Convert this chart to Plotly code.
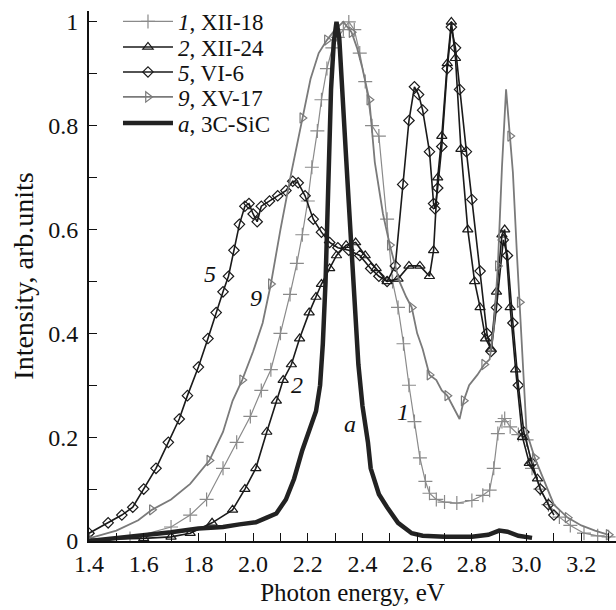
import plotly.graph_objects as go

# ---------------- data ----------------
x1 = [1.40, 1.55, 1.70, 1.77, 1.83, 1.89, 1.94, 1.99, 2.03, 2.065, 2.10, 2.135, 2.16, 2.18, 2.20, 2.215,
      2.235, 2.25, 2.27, 2.29, 2.31, 2.33, 2.35, 2.37, 2.39, 2.41, 2.435, 2.46, 2.49, 2.51, 2.53, 2.55,
      2.57, 2.59, 2.61, 2.63, 2.645, 2.67, 2.70, 2.745, 2.80, 2.84, 2.865, 2.88, 2.895, 2.91, 2.92, 2.94,
      2.97, 3.00, 3.02, 3.05, 3.08, 3.12, 3.16, 3.21, 3.26, 3.30]
y1 = [0.002, 0.005, 0.027, 0.05, 0.08, 0.14, 0.19, 0.24, 0.29, 0.33, 0.40, 0.475, 0.535, 0.59, 0.655, 0.72,
      0.79, 0.85, 0.91, 0.95, 0.97, 0.985, 1.0, 0.985, 0.94, 0.885, 0.80, 0.78, 0.62, 0.50, 0.45, 0.38,
      0.30, 0.23, 0.16, 0.115, 0.092, 0.08, 0.075, 0.073, 0.078, 0.088, 0.098, 0.14, 0.207, 0.23, 0.236, 0.22,
      0.205, 0.195, 0.14, 0.10, 0.07, 0.046, 0.03, 0.015, 0.01, 0.008]

x2 = [1.40, 1.60, 1.70, 1.77, 1.85, 1.925, 1.97, 2.01, 2.05, 2.085, 2.11, 2.14, 2.17, 2.205, 2.23, 2.25,
      2.28, 2.305, 2.34, 2.375, 2.41, 2.45, 2.49, 2.53, 2.57, 2.61, 2.645, 2.66, 2.675, 2.69, 2.71, 2.725,
      2.74, 2.76, 2.785, 2.81, 2.83, 2.85, 2.87, 2.89, 2.91, 2.92, 2.94, 2.96, 2.985, 3.01, 3.04]
y2 = [0.003, 0.005, 0.008, 0.015, 0.035, 0.06, 0.10, 0.14, 0.21, 0.27, 0.31, 0.34, 0.39, 0.44, 0.47, 0.495,
      0.525, 0.55, 0.57, 0.575, 0.55, 0.525, 0.50, 0.505, 0.53, 0.53, 0.51, 0.56, 0.70, 0.78, 0.92, 1.0,
      0.93, 0.755, 0.60, 0.50, 0.45, 0.39, 0.37, 0.48, 0.59, 0.60, 0.45, 0.33, 0.20, 0.15, 0.12]

x5 = [1.40, 1.47, 1.52, 1.56, 1.60, 1.645, 1.69, 1.73, 1.76, 1.80, 1.835, 1.865, 1.89, 1.91, 1.93, 1.95,
      1.97, 1.985, 2.00, 2.015, 2.03, 2.06, 2.09, 2.12, 2.145, 2.165, 2.19, 2.22, 2.25, 2.28, 2.31, 2.35,
      2.39, 2.43, 2.46, 2.49, 2.52, 2.547, 2.57, 2.59, 2.605, 2.62, 2.645, 2.66, 2.665, 2.675, 2.69, 2.71,
      2.725, 2.74, 2.755, 2.78, 2.80, 2.83, 2.855, 2.87, 2.89, 2.915, 2.93, 2.95, 2.97, 2.99, 3.02, 3.05,
      3.08, 3.10]
y5 = [0.015, 0.035, 0.05, 0.065, 0.10, 0.14, 0.19, 0.235, 0.28, 0.335, 0.39, 0.44, 0.48, 0.51, 0.56, 0.61,
      0.645, 0.65, 0.63, 0.615, 0.645, 0.655, 0.665, 0.675, 0.693, 0.69, 0.665, 0.62, 0.595, 0.575, 0.565, 0.56,
      0.55, 0.525, 0.51, 0.50, 0.53, 0.687, 0.81, 0.875, 0.86, 0.83, 0.75, 0.65, 0.64, 0.68, 0.76, 0.91,
      0.99, 0.95, 0.87, 0.75, 0.658, 0.52, 0.40, 0.365, 0.45, 0.58, 0.55, 0.42, 0.30, 0.21, 0.15, 0.10,
      0.07, 0.05]

x9 = [1.40, 1.50, 1.58, 1.63, 1.70, 1.77, 1.84, 1.89, 1.925, 1.96, 2.00, 2.035, 2.065, 2.10, 2.14, 2.18,
      2.21, 2.24, 2.27, 2.30, 2.33, 2.36, 2.38, 2.40, 2.425, 2.445, 2.475, 2.50, 2.535, 2.56, 2.58, 2.60,
      2.62, 2.645, 2.67, 2.69, 2.71, 2.73, 2.755, 2.77, 2.79, 2.82, 2.845, 2.865, 2.88, 2.895, 2.91, 2.925,
      2.94, 2.95, 2.965, 2.975, 2.99, 3.00, 3.03, 3.06, 3.10, 3.15, 3.20, 3.25, 3.30]
y9 = [0.005, 0.02, 0.04, 0.06, 0.08, 0.11, 0.155, 0.21, 0.27, 0.31, 0.365, 0.42, 0.495, 0.60, 0.71, 0.815,
      0.89, 0.94, 0.965, 0.985, 1.0, 0.98, 0.95, 0.91, 0.85, 0.73, 0.63, 0.57, 0.50, 0.47, 0.45, 0.40,
      0.37, 0.32, 0.31, 0.29, 0.28, 0.26, 0.235, 0.27, 0.30, 0.32, 0.34, 0.35, 0.41, 0.53, 0.72, 0.87,
      0.78, 0.71, 0.55, 0.46, 0.30, 0.21, 0.16, 0.12, 0.07, 0.045, 0.03, 0.02, 0.012]

xa = [1.40, 1.50, 1.60, 1.70, 1.80, 1.89, 1.95, 2.01, 2.05, 2.085, 2.12, 2.15, 2.18, 2.21, 2.23, 2.245,
      2.255, 2.265, 2.275, 2.285, 2.295, 2.305, 2.315, 2.325, 2.34, 2.35, 2.36, 2.37, 2.385, 2.40, 2.42,
      2.43, 2.46, 2.49, 2.53, 2.58, 2.62, 2.70, 2.80, 2.86, 2.90, 2.93, 2.97, 3.02]
ya = [0.0, 0.005, 0.01, 0.017, 0.024, 0.027, 0.032, 0.036, 0.045, 0.053, 0.08, 0.12, 0.175, 0.22, 0.25, 0.30,
      0.38, 0.50, 0.70, 0.87, 0.96, 1.0, 0.97, 0.86, 0.74, 0.65, 0.55, 0.46, 0.34, 0.26, 0.19,
      0.14, 0.09, 0.065, 0.035, 0.015, 0.01, 0.008, 0.008, 0.012, 0.02, 0.018, 0.01, 0.006]

names = ["<i>1</i>, XII-18", "<i>2</i>, XII-24", "<i>5</i>, VI-6", "<i>9</i>, XV-17", "<i>a</i>, 3C-SiC"]

xtick_vals = [1.4, 1.6, 1.8, 2.0, 2.2, 2.4, 2.6, 2.8, 3.0, 3.2]
xtick_text = ["1.4", "1.6", "1.8", "2.0", "2.2", "2.4", "2.6", "2.8", "3.0", "3.2"]
ytick_vals = [0, 0.2, 0.4, 0.6, 0.8, 1.0]
ytick_text = ["0", "0.2", "0.4", "0.6", "0.8", "1"]

curve_labels = ["5", "9", "2", "a", "1"]
curve_label_x = [1.843, 2.012, 2.162, 2.356, 2.547]
curve_label_y = [0.514, 0.468, 0.30, 0.225, 0.248]

# ---------------- figure ----------------
FONT = "Liberation Serif, Times New Roman, serif"
fig = go.Figure()

legend_ids = ["legend", "legend2", "legend3", "legend4", "legend5"]

fig.add_trace(go.Scatter(x=x1, y=y1, name=names[0], mode="lines+markers", legend=legend_ids[0],
                         line=dict(color="#8a8a8a", width=1.2),
                         marker=dict(symbol="cross-thin-open", size=10, color="#8a8a8a",
                                     line=dict(width=1.2, color="#8a8a8a"))))
fig.add_trace(go.Scatter(x=x2, y=y2, name=names[1], mode="lines+markers", legend=legend_ids[1],
                         line=dict(color="#1a1a1a", width=1.6),
                         marker=dict(symbol="triangle-up-open", size=9, color="#1a1a1a",
                                     line=dict(width=1.2, color="#1a1a1a"))))
fig.add_trace(go.Scatter(x=x5, y=y5, name=names[2], mode="lines+markers", legend=legend_ids[2],
                         line=dict(color="#1a1a1a", width=1.6),
                         marker=dict(symbol="diamond-open", size=8, color="#1a1a1a",
                                     line=dict(width=1.2, color="#1a1a1a"))))
fig.add_trace(go.Scatter(x=x9, y=y9, name=names[3], mode="lines+markers", legend=legend_ids[3],
                         line=dict(color="#7a7a7a", width=1.8),
                         marker=dict(symbol="triangle-right-open", size=9, color="#7a7a7a",
                                     maxdisplayed=25,
                                     line=dict(width=1.2, color="#7a7a7a"))))
fig.add_trace(go.Scatter(x=xa, y=ya, name=names[4], mode="lines", legend=legend_ids[4],
                         line=dict(color="#222222", width=4.5)))

for t, xv, yv in zip(curve_labels, curve_label_x, curve_label_y):
    fig.add_annotation(x=xv, y=yv, text="<i>" + t + "</i>", showarrow=False,
                       font=dict(family=FONT, size=24, color="#111"))

# legend entry centres (pixels from top) -> paper coords
PLOT_TOP, PLOT_BOTTOM = 10, 541
entry_px = [21, 47, 72, 97, 123]
legend_layout = {}
for lid, py in zip(legend_ids, entry_px):
    legend_layout[lid] = dict(x=0.055, y=(PLOT_BOTTOM - py) / (PLOT_BOTTOM - PLOT_TOP),
                              xanchor="left", yanchor="middle",
                              bgcolor="rgba(0,0,0,0)",
                              font=dict(family=FONT, size=23, color="#111"),
                              itemwidth=50)

fig.update_layout(
    width=616, height=610,
    margin=dict(l=89, r=0, t=PLOT_TOP, b=610 - PLOT_BOTTOM),
    paper_bgcolor="white", plot_bgcolor="white",
    font=dict(family=FONT, size=24, color="#111"),
    showlegend=True,
    **legend_layout,
)
fig.update_xaxes(range=[1.4, 3.327], showline=True, linecolor="#111", linewidth=2,
                 showgrid=False, zeroline=False, ticks="inside", ticklen=8, tickwidth=1.2,
                 tickcolor="#111", tickvals=xtick_vals, ticktext=xtick_text, automargin=False,
                 minor=dict(dtick=0.1, tick0=1.4, ticks="inside", ticklen=8, tickcolor="#111", tickwidth=1.2),
                 title=dict(text="Photon energy, eV", font=dict(size=25), standoff=8))
fig.update_yaxes(range=[0, 1.021], showline=True, linecolor="#111", linewidth=2,
                 showgrid=False, zeroline=False, ticks="inside", ticklen=8, tickwidth=1.2,
                 tickcolor="#111", tickvals=ytick_vals, ticktext=ytick_text, automargin=False,
                 ticklabelstandoff=4,
                 minor=dict(dtick=0.1, tick0=0, ticks="inside", ticklen=8, tickcolor="#111", tickwidth=1.2),
                 title=dict(text="Intensity, arb.units", font=dict(size=28), standoff=6))

fig.write_html("out.html", config={"displayModeBar": False},
               post_script="document.body.style.margin='0';document.body.style.overflow='hidden';")
